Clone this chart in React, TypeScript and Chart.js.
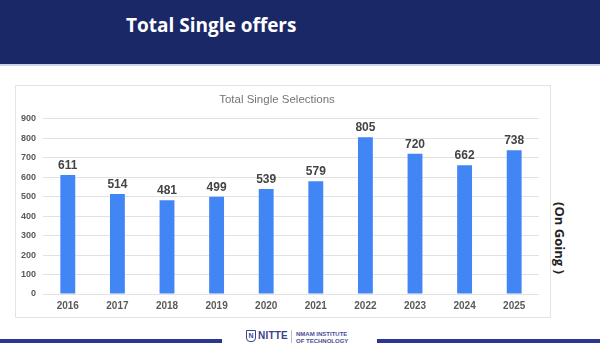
import React, { useEffect, useRef } from "react";
import { Chart, registerables } from "chart.js";

Chart.register(...registerables);

const categories = ["2016", "2017", "2018", "2019", "2020", "2021", "2022", "2023", "2024", "2025"];
const selections = [611, 514, 481, 499, 539, 579, 805, 720, 662, 738];
const yTicks = [0, 100, 200, 300, 400, 500, 600, 700, 800, 900];
const slideTitle = "Total Single offers";
const chartTitle = "Total Single Selections";
const sideNote = "(On Going )";

const valueLabels = {
  id: "valueLabels",
  afterDatasetsDraw(chart: any) {
    const ctx = chart.ctx;
    const meta = chart.getDatasetMeta(0);
    const data = chart.data.datasets[0].data;
    ctx.save();
    ctx.font = "bold 12px 'Liberation Sans', Arial, sans-serif";
    ctx.fillStyle = "#444444";
    ctx.textAlign = "center";
    ctx.textBaseline = "alphabetic";
    meta.data.forEach((el: any, i: number) => {
      ctx.fillText(String(data[i]), el.x, el.y - 6);
    });
    ctx.restore();
  },
};

function BarChart() {
  const ref = useRef<HTMLCanvasElement | null>(null);
  useEffect(() => {
    if (!ref.current) return;
    const chart = new Chart(ref.current, {
      type: "bar",
      data: {
        labels: categories,
        datasets: [
          {
            data: selections,
            backgroundColor: "#4285f4",
            borderWidth: 0,
            categoryPercentage: 1,
            barPercentage: 0.3,
          },
        ],
      },
      options: {
        responsive: false,
        animation: false,
        layout: { padding: { left: 0, right: 12, top: 0, bottom: 0 } },
        plugins: {
          legend: { display: false },
          tooltip: { enabled: false },
          title: {
            display: true,
            text: chartTitle,
            color: "#757575",
            font: { family: "'Liberation Sans', Arial, sans-serif", size: 11.5, weight: "normal" },
            padding: { top: 8, bottom: 12 },
          },
        },
        scales: {
          x: {
            grid: { display: false, drawTicks: false },
            border: { display: false },
            ticks: {
              color: "#5a5a5a",
              font: { family: "'Liberation Sans', Arial, sans-serif", size: 10, weight: "bold" },
              padding: 6,
              maxRotation: 0,
            },
            afterFit(scale: any) {
              scale.height = 24;
            },
          },
          y: {
            min: yTicks[0],
            max: yTicks[yTicks.length - 1],
            afterBuildTicks(scale: any) {
              scale.ticks = yTicks.map((v) => ({ value: v }));
            },
            grid: { color: "#e2e2e2", drawTicks: false },
            border: { display: false },
            ticks: {
              color: "#5a5a5a",
              font: { family: "'Liberation Sans', Arial, sans-serif", size: 9, weight: "bold" },
              padding: 7,
            },
            afterFit(scale: any) {
              scale.width = 28;
            },
          },
        },
      },
      plugins: [valueLabels],
    } as any);
    return () => chart.destroy();
  }, []);
  return (
    <canvas
      ref={ref}
      width={536}
      height={233}
      style={{ position: "absolute", left: 15, top: 85, width: 536, height: 233 }}
    />
  );
}

export default function App() {
  return (
    <div
      style={{
        position: "absolute",
        left: 0,
        top: 0,
        width: 600,
        height: 350,
        overflow: "hidden",
        background: "#ffffff",
        fontFamily: "'Liberation Sans', Arial, sans-serif",
      }}
    >
      <div style={{ position: "absolute", left: 0, top: 0, width: 600, height: 64, background: "#1b2868" }} />
      <div style={{ position: "absolute", left: 0, top: 64, width: 600, height: 2, background: "#c9d5ea" }} />
      <div
        style={{
          position: "absolute",
          left: 126,
          top: 10,
          height: 30,
          lineHeight: "30px",
          color: "#ffffff",
          fontFamily: "'Open Sans', sans-serif",
          fontWeight: 700,
          fontSize: 19,
          whiteSpace: "nowrap",
        }}
      >
        {slideTitle}
      </div>

      <div
        style={{
          position: "absolute",
          left: 15,
          top: 85,
          width: 536,
          height: 233,
          boxSizing: "border-box",
          border: "1px solid #e3e3e3",
        }}
      />
      <BarChart />

      <div
        style={{
          position: "absolute",
          left: 560,
          top: 238,
          transform: "translate(-50%, -50%) rotate(90deg)",
          whiteSpace: "nowrap",
          fontWeight: 700,
          fontSize: 13,
          color: "#222222",
          fontFamily: "'Open Sans', sans-serif",
        }}
      >
        {sideNote}
      </div>

      <div style={{ position: "absolute", left: 0, top: 339, width: 222, height: 4, background: "#2b3592" }} />
      <div style={{ position: "absolute", left: 377, top: 339, width: 223, height: 4, background: "#2b3592" }} />

      <div
        style={{
          position: "absolute",
          left: 246,
          top: 330,
          width: 8,
          height: 10,
          border: "1.5px solid #3d3f8f",
          borderRadius: "0 0 4px 4px",
          color: "#3d3f8f",
          fontSize: 7,
          fontWeight: 700,
          lineHeight: "10px",
          textAlign: "center",
        }}
      >
        N
      </div>
      <div
        style={{
          position: "absolute",
          left: 258,
          top: 330,
          fontSize: 10,
          fontWeight: 700,
          color: "#3d3f8f",
          lineHeight: "12px",
          letterSpacing: 0.2,
        }}
      >
        NITTE
      </div>
      <div style={{ position: "absolute", left: 291, top: 330, width: 1, height: 13, background: "#b9bbd6" }} />
      <div
        style={{
          position: "absolute",
          left: 296,
          top: 331,
          fontSize: 6,
          fontWeight: 700,
          color: "#4a4d98",
          lineHeight: "6.5px",
          whiteSpace: "nowrap",
        }}
      >
        NMAM INSTITUTE
        <br />
        OF TECHNOLOGY
      </div>
    </div>
  );
}
